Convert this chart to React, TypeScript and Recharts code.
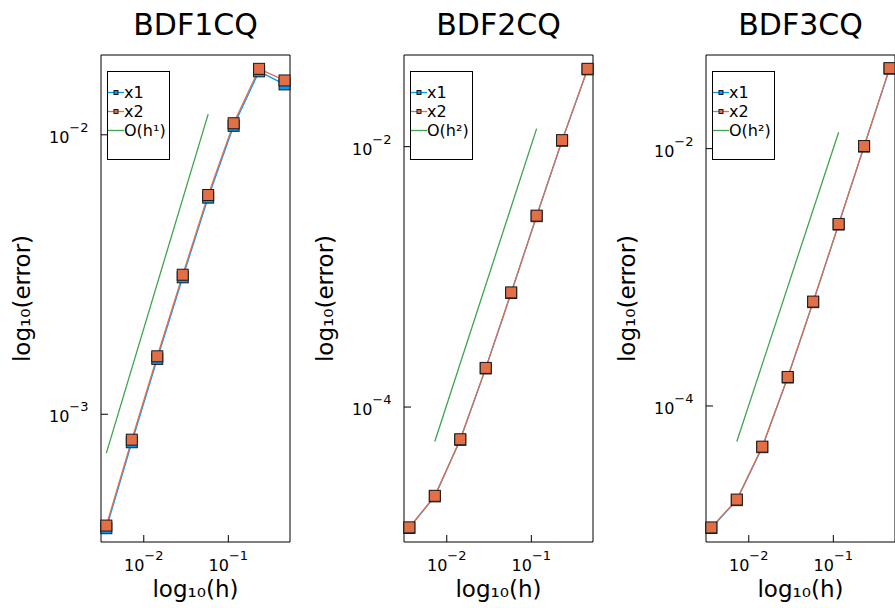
import React from 'react';
import { LineChart, Line, XAxis, YAxis, ReferenceArea, Legend } from 'recharts';

const FONT = '"DejaVu Sans", Verdana, sans-serif';

// ---- data ----
const panelTitles = ['BDF1CQ', 'BDF2CQ', 'BDF3CQ'];
const seriesNames = ['x1', 'x2'];
const refLabels = ['O(h\u00B9)', 'O(h\u00B2)', 'O(h\u00B2)'];

const stepSizes = [0.00361, 0.00722, 0.01444, 0.02888, 0.05775, 0.1155, 0.231, 0.462];

const bdf1ErrX1 = [0.000391, 0.000794, 0.001578, 0.00309, 0.00596, 0.01077, 0.01687, 0.01515];
const bdf1ErrX2 = [0.0003996, 0.000811, 0.001612, 0.003157, 0.00609, 0.0110, 0.01722, 0.01565];
const bdf1RefSteps = [0.00361, 0.05775];
const bdf1RefErr = [0.000726, 0.01186];

const bdf2ErrX1 = [1.178e-5, 2.06e-5, 5.6e-5, 1.978e-4, 7.52e-4, 2.924e-3, 1.111e-2, 3.925e-2];
const bdf2ErrX2 = [1.191e-5, 2.08e-5, 5.655e-5, 1.998e-4, 7.595e-4, 2.953e-3, 1.122e-2, 3.964e-2];
const bdf2RefSteps = [0.00722, 0.1155];
const bdf2RefErr = [5.436e-5, 1.377e-2];

const bdf3ErrX1 = [1.127e-5, 1.855e-5, 4.785e-5, 1.664e-4, 6.41e-4, 2.57e-3, 1.037e-2, 4.18e-2];
const bdf3ErrX2 = [1.138e-5, 1.874e-5, 4.832e-5, 1.681e-4, 6.478e-4, 2.596e-3, 1.047e-2, 4.22e-2];
const bdf3RefSteps = [0.00722, 0.1155];
const bdf3RefErr = [5.293e-5, 1.339e-2];

const xTickValues = [0.01, 0.1];
const bdf1YTicks = [0.001, 0.01];
const bdf23YTicks = [0.0001, 0.01];

const xDomain: [number, number] = [0.00312, 0.536];
const bdf1YDomain: [number, number] = [3.49e-4, 0.0193];
const bdf2YDomain: [number, number] = [9.19e-6, 0.0506];
const bdf3YDomain: [number, number] = [8.77e-6, 0.0534];

const COLORS = { x1: '#009AFA', x2: '#E36F47', ref: '#3EA44E' };

type Pt = { h: number; e: number };
const zip = (hs: number[], es: number[]): Pt[] => hs.map((h, i) => ({ h, e: es[i] }));

// ---- custom pieces ----
const XTick = (props: any) => {
  const { x, y, payload } = props;
  const exp = Math.round(Math.log10(payload.value));
  return (
    <g>
      <line x1={x} x2={x} y1={y} y2={y - 7} stroke="#000" strokeWidth={1} />
      <text x={x} y={y + 29} textAnchor="middle" fill="#000" fontFamily={FONT}>
        <tspan fontSize={16}>10</tspan>
        <tspan fontSize={13} dy={-11}>{'\u2212' + Math.abs(exp)}</tspan>
      </text>
    </g>
  );
};

const YTick = (props: any) => {
  const { x, y, payload } = props;
  const exp = Math.round(Math.log10(payload.value));
  return (
    <g>
      <line x1={x} x2={x + 7} y1={y} y2={y} stroke="#000" strokeWidth={1} />
      <text x={x - 12.5} y={y + 8} textAnchor="end" fill="#000" fontFamily={FONT}>
        <tspan fontSize={16}>10</tspan>
        <tspan fontSize={13} dy={-11}>{'\u2212' + Math.abs(exp)}</tspan>
      </text>
    </g>
  );
};

const squareDot = (color: string) => (props: any) => {
  const { cx, cy, index } = props;
  if (cx == null || cy == null) return <g key={`d-${index}`} />;
  return (
    <rect
      key={`d-${index}`}
      x={cx - 5.5}
      y={cy - 5.5}
      width={11}
      height={11}
      fill={color}
      stroke="#1a1a1a"
      strokeWidth={1}
    />
  );
};

const renderLegend = (props: any) => {
  const raw = props.payload || [];
  const items = [
    ...raw.filter((it: any) => it.type === 'square'),
    ...raw.filter((it: any) => it.type !== 'square'),
  ];
  items.sort((a: any, b: any) => {
    const ia = seriesNames.indexOf(a.value);
    const ib = seriesNames.indexOf(b.value);
    return (ia < 0 ? 99 : ia) - (ib < 0 ? 99 : ib);
  });
  return (
    <div
      style={{
        border: '1px solid #000',
        background: '#fff',
        width: 61,
        height: 76,
        paddingTop: 10.5,
        boxSizing: 'content-box',
        fontFamily: FONT,
        fontSize: 16,
        color: '#000',
      }}
    >
      {items.map((it: any, i: number) => (
        <div key={i} style={{ display: 'flex', alignItems: 'center', height: 19.4, whiteSpace: 'nowrap' }}>
          <svg width={16} height={19} style={{ display: 'block', flex: 'none' }}>
            <line x1={0} x2={16} y1={9.5} y2={9.5} stroke={it.color} strokeWidth={1.3} />
            {it.type === 'square' ? (
              <rect x={6} y={7.5} width={4} height={4} fill={it.color} stroke="#1a1a1a" strokeWidth={1} />
            ) : null}
          </svg>
          <span style={{ lineHeight: '19px' }}>{it.value}</span>
        </div>
      ))}
    </div>
  );
};

type PanelProps = {
  left: number;
  title: string;
  refLabel: string;
  x1: Pt[];
  x2: Pt[];
  refLine: Pt[];
  yDomain: [number, number];
  yTicks: number[];
};

function Panel({ left, title, refLabel, x1, x2, refLine, yDomain, yTicks }: PanelProps) {
  return (
    <div style={{ position: 'absolute', left, top: 0, width: 300, height: 608 }}>
      <LineChart width={300} height={608} margin={{ top: 55, right: 10, bottom: 0, left: 0 }}>
        <XAxis
          type="number"
          dataKey="h"
          scale="log"
          domain={xDomain}
          ticks={xTickValues}
          interval={0}
          tick={<XTick />}
          tickLine={false}
          axisLine={false}
          tickSize={0}
          tickMargin={0}
          height={66}
          label={{
            value: 'log\u2081\u2080(h)',
            position: 'insideBottom',
            offset: 11,
            fontSize: 23,
            fill: '#000',
            fontFamily: FONT,
          }}
        />
        <YAxis
          type="number"
          dataKey="e"
          scale="log"
          domain={yDomain}
          ticks={yTicks}
          interval={0}
          tick={<YTick />}
          tickLine={false}
          axisLine={false}
          tickSize={0}
          tickMargin={0}
          width={101}
          label={{
            value: 'log\u2081\u2080(error)',
            angle: -90,
            position: 'insideLeft',
            offset: 22,
            fontSize: 23,
            fill: '#000',
            fontFamily: FONT,
            style: { textAnchor: 'middle' },
          }}
        />
        <ReferenceArea
          x1={xDomain[0]}
          x2={xDomain[1]}
          y1={yDomain[0]}
          y2={yDomain[1]}
          fill="none"
          fillOpacity={0}
          stroke="#000"
          strokeWidth={1}
        />
        <Line
          data={x1}
          dataKey="e"
          name={seriesNames[0]}
          stroke={COLORS.x1}
          strokeWidth={1.3}
          dot={squareDot(COLORS.x1)}
          activeDot={false}
          legendType="square"
          isAnimationActive={false}
        />
        <Line
          data={x2}
          dataKey="e"
          name={seriesNames[1]}
          stroke={COLORS.x2}
          strokeWidth={1.3}
          dot={squareDot(COLORS.x2)}
          activeDot={false}
          legendType="square"
          isAnimationActive={false}
        />
        <Line
          data={refLine}
          dataKey="e"
          name={refLabel}
          stroke={COLORS.ref}
          strokeWidth={1.3}
          dot={false}
          activeDot={false}
          legendType="line"
          isAnimationActive={false}
        />
        <Legend
          content={renderLegend}
          layout="vertical"
          align="center"
          verticalAlign="middle"
          wrapperStyle={{ left: 107, top: 71, width: 'auto', height: 'auto' }}
        />
      </LineChart>
      <svg
        width={300}
        height={50}
        style={{ position: 'absolute', left: 0, top: 0, pointerEvents: 'none' }}
      >
        <text x={195.5} y={35} textAnchor="middle" fontSize={30} fontFamily={FONT} fill="#000">
          {title}
        </text>
      </svg>
    </div>
  );
}

export default function App() {
  return (
    <div
      style={{
        position: 'absolute',
        left: 0,
        top: 0,
        width: 895,
        height: 608,
        overflow: 'hidden',
        background: '#fff',
      }}
    >
      <Panel
        left={0}
        title={panelTitles[0]}
        refLabel={refLabels[0]}
        x1={zip(stepSizes, bdf1ErrX1)}
        x2={zip(stepSizes, bdf1ErrX2)}
        refLine={zip(bdf1RefSteps, bdf1RefErr)}
        yDomain={bdf1YDomain}
        yTicks={bdf1YTicks}
      />
      <Panel
        left={303}
        title={panelTitles[1]}
        refLabel={refLabels[1]}
        x1={zip(stepSizes, bdf2ErrX1)}
        x2={zip(stepSizes, bdf2ErrX2)}
        refLine={zip(bdf2RefSteps, bdf2RefErr)}
        yDomain={bdf2YDomain}
        yTicks={bdf23YTicks}
      />
      <Panel
        left={605}
        title={panelTitles[2]}
        refLabel={refLabels[2]}
        x1={zip(stepSizes, bdf3ErrX1)}
        x2={zip(stepSizes, bdf3ErrX2)}
        refLine={zip(bdf3RefSteps, bdf3RefErr)}
        yDomain={bdf3YDomain}
        yTicks={bdf23YTicks}
      />
    </div>
  );
}
